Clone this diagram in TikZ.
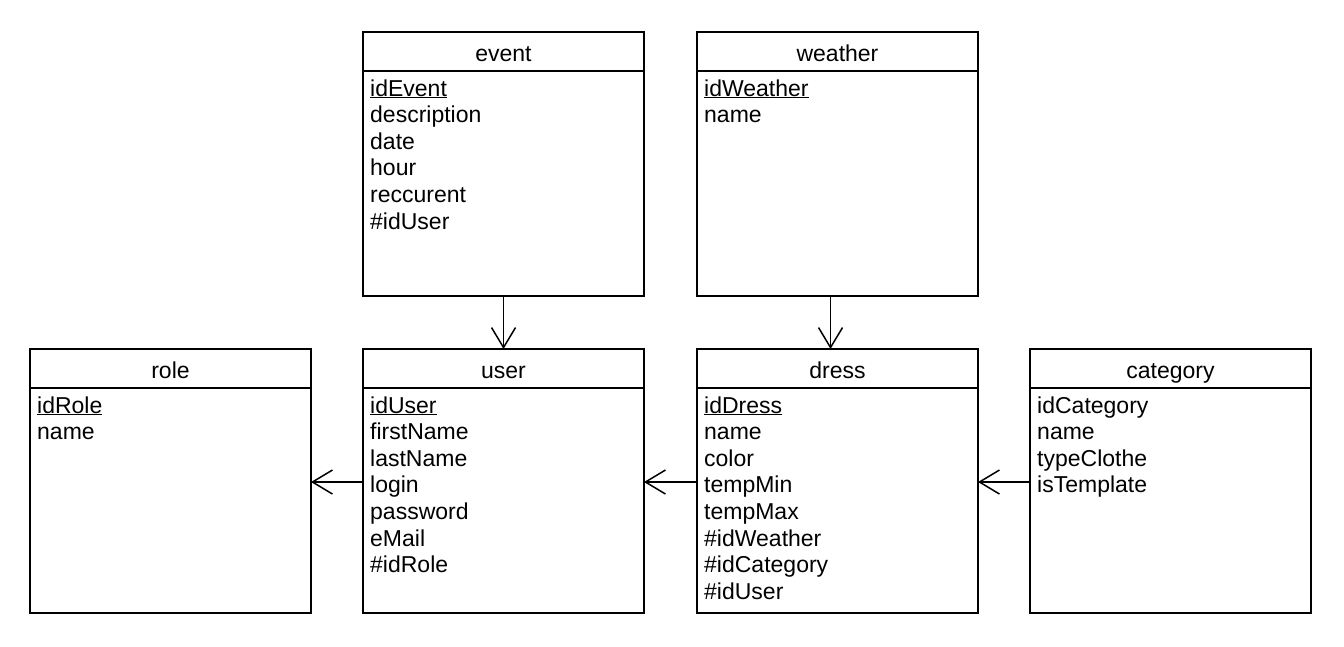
\documentclass[tikz,border=0pt]{standalone}
\usepackage{fontspec}
\setmainfont{Liberation Sans}
\usetikzlibrary{arrows.meta}
\tikzset{
  tbl/.style={draw, line width=1.5pt, minimum width=281pt, minimum height=264pt, inner sep=0pt, outer sep=0pt},
  tblline/.style={line width=1.5pt},
  ttl/.style={inner sep=0pt, font=\fontsize{23}{26.6}\selectfont},
  attr/.style={inner sep=0pt, font=\fontsize{23}{26.6}\selectfont},
  rel/.style={line width=1.5pt, -{Straight Barb[length=20pt, width=24pt, line width=1.5pt]}}
}
\newcommand\erbox[5]{%
  \node[tbl, anchor=north west] (#1) at (#2,#3) {};
  \draw[tblline] ([yshift=-39pt]#1.north west) -- ([yshift=-39pt]#1.north east);
  \node[ttl, anchor=base] (#1-t) at ([yshift=-29pt]#1.north) {#4};
  \foreach \a [count=\i] in {#5} {
    \node[attr, anchor=base west] (#1-\i) at ([xshift=7pt,yshift={(-37.4-26.6*\i)*1pt}]#1.north west) {\a};
  }
}
\begin{document}
\begin{tikzpicture}[x=1pt, y=-1pt]
\useasboundingbox (0,0) rectangle (1344,646);
\erbox{event}{363}{32}{event}{\underline{idEvent},description,date,hour,reccurent,\#idUser}
\erbox{weather}{697}{32}{weather}{\underline{idWeather},name}
\erbox{role}{30}{349}{role}{\underline{idRole},name}
\erbox{user}{363}{349}{user}{\underline{idUser},firstName,lastName,login,password,eMail,\#idRole}
\erbox{dress}{697}{349}{dress}{\underline{idDress},name,color,tempMin,tempMax,\#idWeather,\#idCategory,\#idUser}
\erbox{category}{1030}{349}{category}{idCategory,name,typeClothe,isTemplate}
\draw[rel] (event.south) -- (user.north);
\draw[rel] ([xshift=-7pt]weather.south) -- ([xshift=-7pt]dress.north);
\draw[rel] ([yshift=-1pt]user.west) -- ([yshift=-1pt]role.east);
\draw[rel] ([yshift=-1pt]dress.west) -- ([yshift=-1pt]user.east);
\draw[rel] ([yshift=-1pt]category.west) -- ([yshift=-1pt]dress.east);
\end{tikzpicture}
\end{document}
